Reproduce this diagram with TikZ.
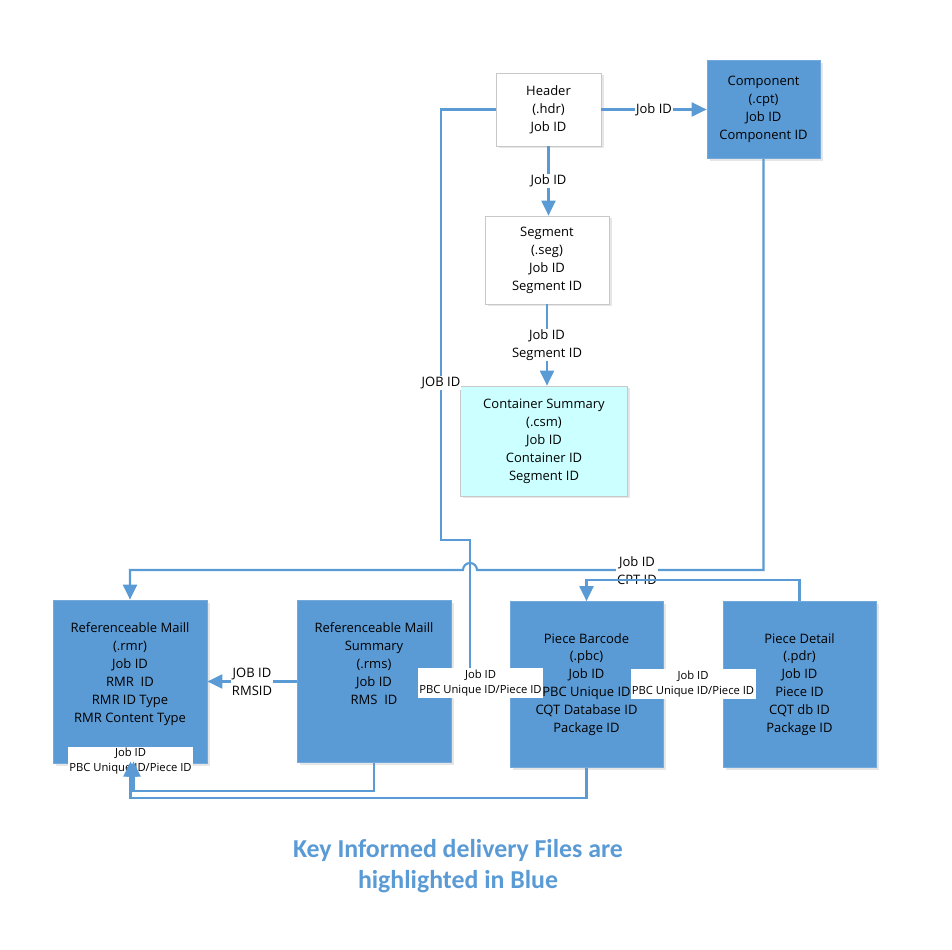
\documentclass[tikz,border=0pt]{standalone}
\usepackage{fontspec}
\setmainfont{Open Sans}
\newfontfamily\titlefont{Carlito}
\usetikzlibrary{arrows.meta}
\usetikzlibrary{shadows}

\definecolor{idblue}{HTML}{5B9BD5}
\definecolor{csmcyan}{HTML}{CCFFFF}
\definecolor{boxgray}{HTML}{C8C8C8}

\begin{document}
\begin{tikzpicture}[
  file/.style={draw=boxgray, fill=white, align=center, inner sep=0pt,
    font=\fontsize{7.4}{10.2}\selectfont,
    drop shadow={shadow xshift=0.5mm, shadow yshift=-0.5mm, opacity=0.2}},
  keyfile/.style={file, draw=idblue!85!white, fill=idblue},
  link/.style={draw=idblue, line width=1.2pt},
  tip/.style={-{Triangle[length=3mm,width=2.8mm]}},
  lbl/.style={fill=white, align=center, inner sep=0.5pt, font=\fontsize{7.4}{10.2}\selectfont},
  smalllbl/.style={fill=white, align=center, inner sep=0pt, minimum width=2.5cm,
    minimum height=0.6cm, font=\fontsize{6.4}{8.6}\selectfont}
]
  \useasboundingbox (0,0) rectangle (19.04,-19);

  % files
  \node[file, minimum width=2.1cm, minimum height=1.46cm] (hdr) at (10.97,-2.19) {Header\\(.hdr)\\Job ID};
  \node[keyfile, minimum width=2.26cm, minimum height=1.96cm, right of=hdr, node distance=4.3cm] (cpt) {Component\\(.cpt)\\Job ID\\Component ID};
  \node[file, minimum width=2.48cm, minimum height=1.76cm, below of=hdr, node distance=3.01cm, xshift=-0.03cm] (seg) {Segment\\(.seg)\\Job ID\\Segment ID};
  \node[file, fill=csmcyan, minimum width=3.34cm, minimum height=2.2cm, below of=seg, node distance=3.62cm, xshift=-0.06cm] (csm) {Container Summary\\(.csm)\\Job ID\\Container ID\\Segment ID};

  \node[keyfile, minimum width=3.08cm, minimum height=3.26cm] (rmr) at (2.6,-13.63) {Referenceable Maill\\(.rmr)\\Job ID\\RMR\ \ ID\\RMR ID Type\\RMR Content Type\\~};
  \node[keyfile, minimum width=3.08cm, minimum height=3.24cm, right of=rmr, node distance=4.88cm] (rms) {Referenceable Maill\\Summary\\(.rms)\\Job ID\\RMS\ \ ID\\~\\~};
  \node[keyfile, minimum width=3.06cm, minimum height=3.32cm, right of=rms, node distance=4.25cm, yshift=-0.06cm] (pbc) {Piece Barcode\\(.pbc)\\Job ID\\PBC Unique ID\\CQT Database ID\\Package ID};
  \node[keyfile, minimum width=3.06cm, minimum height=3.32cm, right of=pbc, node distance=4.26cm] (pdr) {Piece Detail\\(.pdr)\\Job ID\\Piece ID\\CQT db ID\\Package ID};

  % id labels
  \node[smalllbl] (rmrlbl) at (2.61,-15.23) {Job ID\\PBC Unique ID/Piece ID};
  \node[smalllbl] (rmslbl) at (9.61,-13.66) {Job ID\\PBC Unique ID/Piece ID};
  \node[smalllbl] (pbclbl) at (13.86,-13.68) {Job ID\\PBC Unique ID/Piece ID};

  % links
  \draw[link, tip] (hdr) -- node[lbl] {Job ID} (cpt);
  \draw[link, tip] (hdr.south) -- node[lbl] {Job ID} (hdr.south |- seg.north);
  \draw[link, tip] (seg.south) -- node[lbl] {Job ID\\Segment ID} (seg.south |- csm.north);

  \coordinate (hdrbend) at (8.82,-2.19);
  \coordinate (jobdrop) at (8.82,-10.8);
  \coordinate (jobhop) at (9.4,-10.8);
  \draw[link] (hdr.west) -- (hdrbend) -- node[lbl, pos=0.635] {JOB ID} (jobdrop) -- (jobhop) -- (jobhop |- rmslbl.north);

  \coordinate (cptbend) at (15.27,-11.4);
  \draw[link, tip] (cpt.south) -- (cptbend) -- (9.54,-11.4) arc (0:180:0.14) -| (rmr.north);
  \node[lbl] (cptlbl) at (12.74,-11.42) {Job ID\\CPT ID};
  \draw[link, tip] (pdr.north) -- ++(0,0.42) -| (pbc.north);

  \draw[link, tip] (rms.west) -- node[lbl] {JOB ID\\RMSID} (rmr.east);
  \draw[link, tip] (rms.south) -- ++(0,-0.56) -| ([xshift=0.06cm]rmrlbl.center);
  \draw[link, tip] (pbc.south) -- ++(0,-0.6) -| (rmrlbl.center);

  % note
  \node[font=\titlefont\bfseries\fontsize{14.7}{17.6}\selectfont, text=idblue, align=center] (keynote) at (9.16,-17.33) {Key Informed delivery Files are\\highlighted in Blue};
\end{tikzpicture}
\end{document}
